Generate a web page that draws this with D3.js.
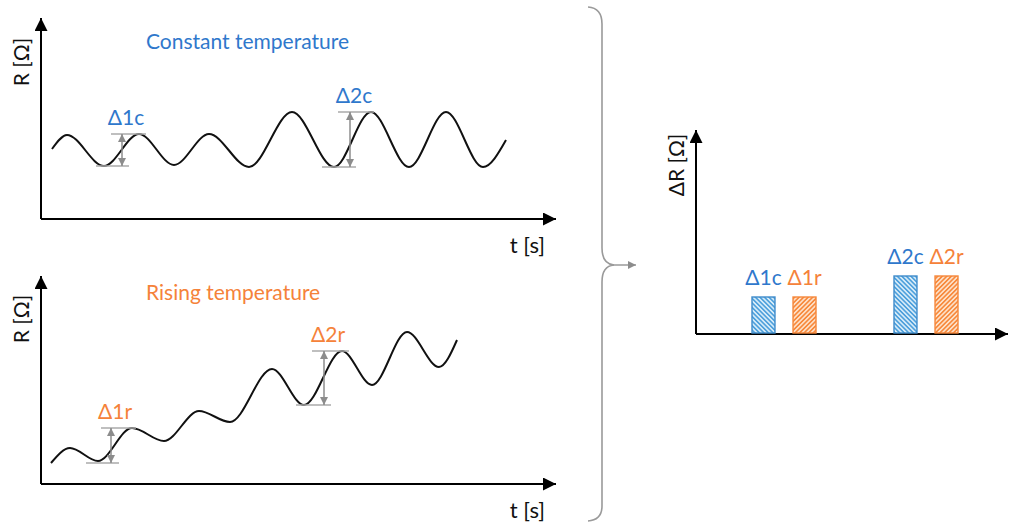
<!DOCTYPE html>
<html>
<head>
<meta charset="utf-8">
<script src="https://cdn.jsdelivr.net/npm/d3@7"></script>
<style>
  body { margin: 0; background: #fff; }
  text { font-family: Lato, "Noto Sans", sans-serif; }
</style>
</head>
<body>
<div id="chart"></div>
<script>
// wave extrema (t and R in arbitrary units)
const constT = [2.2, 5.2, 12.6, 19.6, 26.6, 33.6, 41.6, 50.2, 58.6, 66, 73.6, 81, 88.4, 93];
const constR = [14, 16.8, 10.6, 17, 10.8, 17, 10.4, 21.4, 10.4, 21.4, 10.4, 21.4, 10.4, 15.8];

const riseT = [2, 5.8, 11.4, 18.2, 24.6, 31.6, 37.8, 46.2, 52.6, 60.2, 66.2, 73.2, 79.6, 83.2];
const riseR = [4.2, 7.2, 4.6, 11.2, 8.6, 14.6, 12.4, 23, 15.8, 26.6, 19.8, 30.4, 23.4, 28.8];

// amplitude markers: label, t of arrow, R top, R bottom, top line t range, bottom line t range
const constMarks = [
  {label: 'Δ1c', t: 16.2, hi: 17, lo: 10.6, top: [14, 21], bot: [11, 17.6]},
  {label: 'Δ2c', t: 61.8, hi: 21.4, lo: 10.4, top: [59.4, 66.6], bot: [56.2, 63]}
];
const riseMarks = [
  {label: 'Δ1r', t: 14, hi: 11.2, lo: 4.2, top: [12, 19], bot: [9, 15.6]},
  {label: 'Δ2r', t: 56.6, hi: 26.6, lo: 15.8, top: [54.2, 61.6], bot: [51, 58]}
];

// bar chart
const barGroups = ['1', '2'];
const barKinds = ['c', 'r'];
const barLabels = ['Δ1c', 'Δ1r', 'Δ2c', 'Δ2r'];
const barValues = [7.4, 7.4, 11.6, 11.6];

const blue = '#2f78cc';
const orange = '#f5823a';

const width = 1011, height = 522;
const svg = d3.select('#chart').append('svg')
    .attr('width', width)
    .attr('height', height);

const defs = svg.append('defs');

function arrowMarker(id, color, size) {
  defs.append('marker')
      .attr('id', id)
      .attr('viewBox', '0 0 10 10')
      .attr('refX', 10).attr('refY', 5)
      .attr('markerUnits', 'userSpaceOnUse')
      .attr('markerWidth', size).attr('markerHeight', size)
      .attr('orient', 'auto-start-reverse')
      .append('path')
      .attr('d', 'M0,0 L10,5 L0,10 Z')
      .attr('fill', color);
}
arrowMarker('axisArrow', '#000', 13);
arrowMarker('grayArrow', '#8c8c8c', 8);

function hatch(id, bg, fg, angle) {
  const p = defs.append('pattern')
      .attr('id', id)
      .attr('patternUnits', 'userSpaceOnUse')
      .attr('width', 3.2).attr('height', 3.2)
      .attr('patternTransform', `rotate(${angle})`);
  p.append('rect').attr('width', 3.2).attr('height', 3.2).attr('fill', bg);
  p.append('line').attr('x1', 0.8).attr('x2', 0.8).attr('y1', 0).attr('y2', 3.2)
      .attr('stroke', fg).attr('stroke-width', 1.6);
}
hatch('hatchBlue', '#d6ebf8', '#4ea0dc', -45);
hatch('hatchOrange', '#fde0c8', '#f7893c', 45);

// ---------- wave panels ----------
function wavePanel(cfg) {
  const x = d3.scaleLinear().domain([0, cfg.tMax]).range([cfg.left, cfg.right]);
  const y = d3.scaleLinear().domain([0, cfg.rMax]).range([cfg.bottom, cfg.top]);
  const g = svg.append('g');

  // axes
  g.append('line')
      .attr('x1', x(0)).attr('y1', y(0)).attr('x2', x(0)).attr('y2', y(cfg.rMax))
      .attr('stroke', '#000').attr('stroke-width', 2)
      .attr('marker-end', 'url(#axisArrow)');
  g.append('line')
      .attr('x1', x(0)).attr('y1', y(0)).attr('x2', x(cfg.tMax)).attr('y2', y(0))
      .attr('stroke', '#000').attr('stroke-width', 2)
      .attr('marker-end', 'url(#axisArrow)');

  g.append('text')
      .attr('transform', `translate(${x(0) - 12},${cfg.yLabelY}) rotate(-90)`)
      .attr('text-anchor', 'middle')
      .attr('font-size', 21)
      .attr('fill', '#111')
      .text('R [Ω]');
  g.append('text')
      .attr('x', x(cfg.tMax) - 11).attr('y', y(0) + 34)
      .attr('text-anchor', 'end')
      .attr('font-size', 22)
      .attr('fill', '#111')
      .text('t [s]');

  g.append('text')
      .attr('x', 146).attr('y', cfg.titleY)
      .attr('font-size', 21)
      .attr('fill', cfg.color)
      .text(cfg.title);

  // wave
  const pts = cfg.t.map((t, i) => [t, cfg.r[i]]);
  g.append('path')
      .datum(pts)
      .attr('fill', 'none')
      .attr('stroke', '#111')
      .attr('stroke-width', 2)
      .attr('d', d3.line().x(d => x(d[0])).y(d => y(d[1])).curve(d3.curveMonotoneX));

  // amplitude markers
  const m = g.selectAll('g.mark').data(cfg.marks).join('g').attr('class', 'mark');
  m.append('line')
      .attr('x1', d => x(d.top[0])).attr('x2', d => x(d.top[1]))
      .attr('y1', d => y(d.hi)).attr('y2', d => y(d.hi))
      .attr('stroke', '#aaa').attr('stroke-width', 1.3);
  m.append('line')
      .attr('x1', d => x(d.bot[0])).attr('x2', d => x(d.bot[1]))
      .attr('y1', d => y(d.lo)).attr('y2', d => y(d.lo))
      .attr('stroke', '#aaa').attr('stroke-width', 1.3);
  m.append('line')
      .attr('x1', d => x(d.t)).attr('x2', d => x(d.t))
      .attr('y1', d => y(d.hi)).attr('y2', d => y(d.lo))
      .attr('stroke', '#8c8c8c').attr('stroke-width', 1.5)
      .attr('marker-start', 'url(#grayArrow)')
      .attr('marker-end', 'url(#grayArrow)');
  m.append('text')
      .attr('x', d => x(d.t) + 4)
      .attr('y', d => y(d.hi) - 9)
      .attr('text-anchor', 'middle')
      .attr('font-size', 21)
      .attr('fill', cfg.color)
      .text(d => d.label);
}

wavePanel({
  left: 41, right: 556, top: 18, bottom: 219,
  tMax: 103, rMax: 40.2,
  t: constT, r: constR, marks: constMarks,
  title: 'Constant temperature', titleY: 49, color: blue, yLabelY: 62
});
wavePanel({
  left: 41, right: 556, top: 276, bottom: 484,
  tMax: 103, rMax: 41.6,
  t: riseT, r: riseR, marks: riseMarks,
  title: 'Rising temperature', titleY: 300, color: orange, yLabelY: 319
});

// ---------- brace ----------
const brace = d3.path();
brace.moveTo(588, 7);
brace.quadraticCurveTo(602, 8, 602, 24);
brace.lineTo(602, 248);
brace.quadraticCurveTo(602, 264, 614, 265);
brace.quadraticCurveTo(602, 266, 602, 282);
brace.lineTo(602, 506);
brace.quadraticCurveTo(602, 520, 588, 521);
svg.append('path')
    .attr('d', brace.toString())
    .attr('fill', 'none')
    .attr('stroke', '#9a9a9a')
    .attr('stroke-width', 1.6);
svg.append('line')
    .attr('x1', 613).attr('y1', 265).attr('x2', 636).attr('y2', 265)
    .attr('stroke', '#9a9a9a').attr('stroke-width', 1.5)
    .attr('marker-end', 'url(#grayArrow)');

// ---------- bar chart ----------
const bx0 = d3.scalePoint().domain(barGroups).range([784, 926]);
const bx1 = d3.scaleBand().domain(barKinds).range([-32, 32]).paddingInner(0.44);
const by = d3.scaleLinear().domain([0, 40.8]).range([334, 130]);

const bg = svg.append('g');
bg.append('line')
    .attr('x1', 696).attr('y1', by(0)).attr('x2', 696).attr('y2', by(40.8))
    .attr('stroke', '#000').attr('stroke-width', 2)
    .attr('marker-end', 'url(#axisArrow)');
bg.append('line')
    .attr('x1', 696).attr('y1', by(0)).attr('x2', 1008).attr('y2', by(0))
    .attr('stroke', '#000').attr('stroke-width', 2)
    .attr('marker-end', 'url(#axisArrow)');
bg.append('text')
    .attr('transform', 'translate(684,165) rotate(-90)')
    .attr('text-anchor', 'middle')
    .attr('font-size', 21)
    .attr('fill', '#111')
    .text('ΔR [Ω]');

const bars = barLabels.map((label, i) => ({
  label,
  value: barValues[i],
  group: barGroups[Math.floor(i / 2)],
  kind: barKinds[i % 2]
}));

bg.selectAll('rect.bar')
    .data(bars)
    .join('rect')
    .attr('class', 'bar')
    .attr('x', d => bx0(d.group) + bx1(d.kind))
    .attr('y', d => by(d.value))
    .attr('width', bx1.bandwidth())
    .attr('height', d => by(0) - by(d.value) - 1)
    .attr('fill', d => d.kind === 'c' ? 'url(#hatchBlue)' : 'url(#hatchOrange)')
    .attr('stroke', d => d.kind === 'c' ? '#3f8ccb' : '#f6873a')
    .attr('stroke-width', 1.4);

bg.selectAll('text.blabel')
    .data(bars)
    .join('text')
    .attr('class', 'blabel')
    .attr('x', d => bx0(d.group) + bx1(d.kind) + bx1.bandwidth() / 2)
    .attr('y', d => by(d.value) - 12)
    .attr('text-anchor', 'middle')
    .attr('font-size', 21)
    .attr('fill', d => d.kind === 'c' ? blue : orange)
    .text(d => d.label);
</script>
</body>
</html>
